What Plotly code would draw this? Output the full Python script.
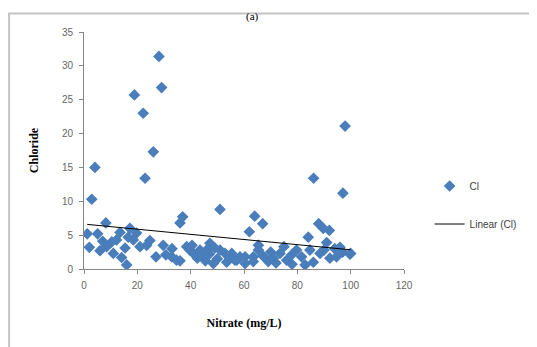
import numpy as np
import plotly.graph_objects as go

# Nitrate (mg/L) vs Chloride
nitrate = [4.1, 2.9, 28.1, 29.1, 18.9, 22.2, 26.0, 22.9, 97.9, 86.1, 97.1,
           36.0, 37.0, 51.0, 64.0, 67.0, 62.0, 8.2, 17.2, 88.0, 89.7, 92.0, 84.1,
           1.2, 2.0, 5.1, 6.0, 8.5, 10.4, 12.2, 13.5, 14.1, 15.4, 16.0, 16.6, 18.5,
           19.7, 21.0, 23.5, 24.7, 27.0, 29.7, 30.7, 32.9, 34.7, 38.5, 39.7, 41.0,
           42.5, 43.5, 44.7, 46.0, 47.2, 48.5, 49.1, 51.0, 52.9, 54.7, 56.6, 58.5,
           60.4, 63.5, 65.4, 75.0, 91.0, 96.0, 99.7, 94.7, 92.2, 88.5, 84.7, 81.6,
           79.7, 77.9, 76.0, 73.5, 71.0, 69.1, 67.2, 65.4, 63.5, 60.4, 57.3, 55.4,
           82.9, 40.5, 42.0, 45.5, 47.0, 50.0, 11.0, 7.0, 33.0, 36.0, 53.5, 70.0,
           72.0, 78.0, 86.0, 90.0, 94.0, 97.0, 100.0]
chloride = [15.0, 10.3, 31.4, 26.8, 25.7, 23.0, 17.3, 13.4, 21.1, 13.4, 11.2,
            6.8, 7.7, 8.8, 7.8, 6.7, 5.5, 6.8, 6.0, 6.7, 6.0, 5.7, 4.7,
            5.2, 3.2, 5.2, 2.7, 3.3, 4.0, 4.3, 5.4, 1.7, 3.1, 0.6, 4.7, 4.3,
            5.3, 3.3, 3.5, 4.2, 1.8, 3.5, 2.1, 1.8, 1.3, 3.3, 2.8, 2.3,
            1.6, 2.8, 1.8, 2.8, 3.8, 0.8, 3.1, 2.8, 2.3, 1.6, 1.3, 1.8,
            0.8, 1.1, 3.5, 3.3, 3.9, 3.2, 2.2, 1.8, 1.6, 2.3, 2.8, 1.8,
            2.8, 2.1, 1.3, 2.3, 1.6, 1.1, 1.9, 2.8, 1.8, 1.8, 1.3, 2.3,
            0.6, 3.5, 2.0, 1.2, 2.2, 1.5, 2.3, 4.1, 3.0, 1.2, 1.0, 2.5,
            0.9, 0.7, 1.0, 2.8, 3.0, 2.5, 2.3]

x_ticks = [0, 20, 40, 60, 80, 100, 120]
y_ticks = [0, 5, 10, 15, 20, 25, 30, 35]

slope, intercept = np.polyfit(nitrate, chloride, 1)
fit_x = [min(nitrate), max(nitrate)]
fit_y = [intercept + slope * v for v in fit_x]

fig = go.Figure()
fig.add_trace(go.Scatter(
    x=nitrate, y=chloride, mode="markers", name="Cl", legendgroup="a",
    marker=dict(symbol="diamond", size=9, color="#4a7ebb", line=dict(width=0)),
))
fig.add_trace(go.Scatter(
    x=fit_x, y=fit_y, mode="lines", name="Linear (Cl)", legendgroup="b",
    line=dict(color="#000000", width=1),
))

axis_common = dict(
    showgrid=False, zeroline=False, showline=True, linecolor="#868686", linewidth=1,
    ticks="outside", ticklen=4, tickcolor="#868686", automargin=False,
    tickfont=dict(family="Liberation Sans, Arial", size=10, color="#666666"),
)
fig.update_xaxes(range=[0, 120], tickvals=x_ticks, ticklabelstandoff=3, **axis_common,
                 title=dict(text="<b>Nitrate (mg/L)</b>", standoff=28,
                            font=dict(family="Liberation Serif, Times New Roman", size=12, color="#000000")))
fig.update_yaxes(range=[0, 35], tickvals=y_ticks, ticklabelstandoff=4, **axis_common,
                 title=dict(text="<b>Chloride</b>", standoff=20,
                            font=dict(family="Liberation Serif, Times New Roman", size=12, color="#000000")))

fig.update_layout(
    width=537, height=347,
    margin=dict(l=76, r=141, t=24, b=86, autoexpand=False),
    paper_bgcolor="#ffffff", plot_bgcolor="#ffffff",
    showlegend=True,
    legend=dict(x=1.08, y=0.27, xanchor="left", yanchor="middle",
                font=dict(family="Liberation Sans, Arial", size=10, color="#404040"),
                bgcolor="rgba(0,0,0,0)", tracegroupgap=19, itemwidth=30),
    shapes=[dict(type="rect", xref="paper", yref="paper",
                 x0=-0.234, x1=1.6, y0=-0.6, y1=1.078,
                 line=dict(color="#c4c4c4", width=2), layer="below")],
    annotations=[dict(text="(a)", xref="paper", yref="paper", x=0.525, y=1.101,
                      xanchor="center", yanchor="top", showarrow=False,
                      font=dict(family="Liberation Serif, Times New Roman", size=11, color="#000000"))],
)

fig.write_html("out.html")
